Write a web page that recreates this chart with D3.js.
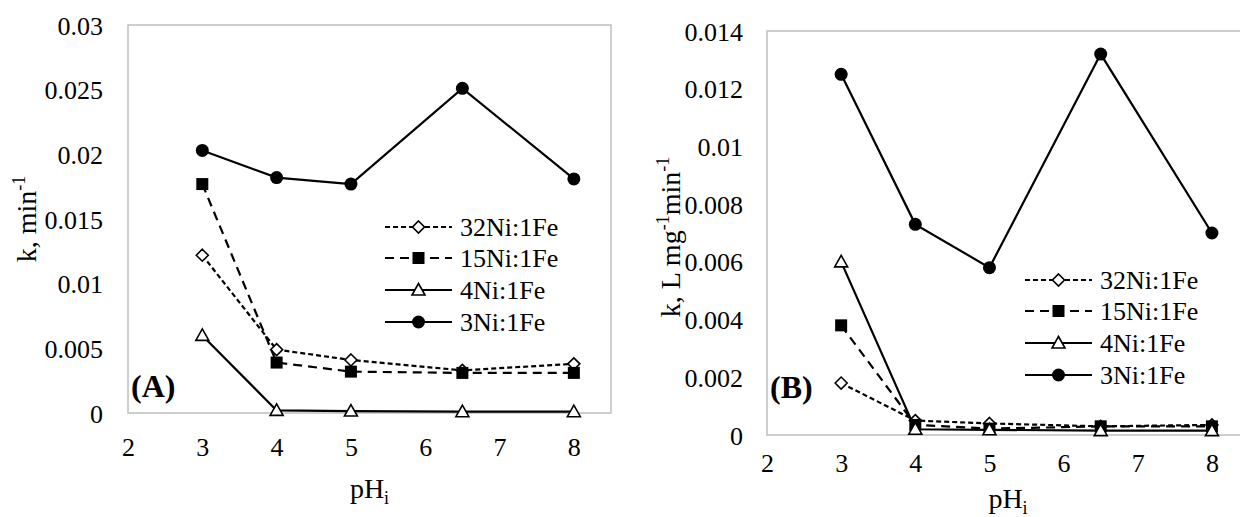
<!DOCTYPE html>
<html>
<head>
<meta charset="utf-8">
<script src="https://cdn.jsdelivr.net/npm/d3@7"></script>
<style>
  html, body { margin: 0; padding: 0; background: #ffffff; }
  svg { display: block; }
  svg text { font-family: "Liberation Serif", "Tinos", "Times New Roman", "DejaVu Serif", serif !important; fill: #000; }
</style>
</head>
<body>
<svg id="chart" width="1240" height="517"></svg>
<script>
// ---------- data ----------
const phValues = [3, 4, 5, 6.5, 8];
const seriesNames = ["32Ni:1Fe", "15Ni:1Fe", "4Ni:1Fe", "3Ni:1Fe"];

// Panel A: k, min^-1
const kA_32Ni = [0.0122, 0.0049, 0.0041, 0.0033, 0.0038];
const kA_15Ni = [0.0177, 0.0039, 0.0032, 0.0031, 0.0031];
const kA_4Ni  = [0.0060, 0.0002, 0.00015, 0.0001, 0.0001];
const kA_3Ni  = [0.0203, 0.0182, 0.0177, 0.0251, 0.0181];

// Panel B: k, L mg^-1 min^-1
const kB_32Ni = [0.0018, 0.0005, 0.0004, 0.0003, 0.00035];
const kB_15Ni = [0.0038, 0.00035, 0.00022, 0.0003, 0.0003];
const kB_4Ni  = [0.0060, 0.0002, 0.00018, 0.00015, 0.00015];
const kB_3Ni  = [0.0125, 0.0073, 0.0058, 0.0132, 0.0070];

const xTicks = [2, 3, 4, 5, 6, 7, 8];
const yTicksA = [0, 0.005, 0.01, 0.015, 0.02, 0.025, 0.03];
const yTickLabelsA = ["0", "0.005", "0.01", "0.015", "0.02", "0.025", "0.03"];
const yTicksB = [0, 0.002, 0.004, 0.006, 0.008, 0.01, 0.012, 0.014];
const yTickLabelsB = ["0", "0.002", "0.004", "0.006", "0.008", "0.01", "0.012", "0.014"];

// ---------- styles ----------
const FONT = '"Liberation Serif", "Tinos", "Times New Roman", "DejaVu Serif", serif';
const styles = [
  { dash: "5,3", marker: "diamond" },
  { dash: "9,6", marker: "square" },
  { dash: null, marker: "triangle" },
  { dash: null, marker: "circle" }
];

const svg = d3.select("#chart");
svg.append("rect").attr("width", 1240).attr("height", 517).attr("fill", "#fff");

function drawMarker(g, type, cx, cy) {
  if (type === "diamond") {
    g.append("path").attr("d", `M${cx},${cy-6}L${cx+6},${cy}L${cx},${cy+6}L${cx-6},${cy}Z`)
      .attr("fill", "#fff").attr("stroke", "#000").attr("stroke-width", 1.6);
  } else if (type === "square") {
    g.append("rect").attr("x", cx-6).attr("y", cy-6).attr("width", 12).attr("height", 12)
      .attr("fill", "#000");
  } else if (type === "triangle") {
    g.append("path").attr("d", `M${cx},${cy-6.5}L${cx+6.5},${cy+5}L${cx-6.5},${cy+5}Z`)
      .attr("fill", "#fff").attr("stroke", "#000").attr("stroke-width", 1.6);
  } else {
    g.append("circle").attr("cx", cx).attr("cy", cy).attr("r", 6.5).attr("fill", "#000");
  }
}

function panel(cfg) {
  const x = d3.scaleLinear().domain([2, 8.5]).range([cfg.left, cfg.right]);
  const y = d3.scaleLinear().domain([0, cfg.ymax]).range([cfg.bottom, cfg.top]);
  const g = svg.append("g").style("font-family", FONT);

  // plot-area border
  g.append("rect")
    .attr("x", cfg.left).attr("y", cfg.top)
    .attr("width", cfg.right - cfg.left).attr("height", cfg.bottom - cfg.top)
    .attr("fill", "none").attr("stroke", "#bfbfbf").attr("stroke-width", 1.5);

  // y axis labels
  const yAxis = d3.axisLeft(y).tickValues(cfg.yTicks)
    .tickFormat((d, i) => cfg.yLabels[i]).tickSize(0).tickPadding(0);
  const ya = g.append("g").attr("transform", `translate(${cfg.left - cfg.yLabelGap},0)`).call(yAxis);
  ya.attr("font-family", null).attr("font-size", null);
  ya.select(".domain").remove();
  ya.selectAll("text").style("font-family", FONT).style("font-size", "26px")
    .attr("fill", "#000").attr("dy", "0.35em").attr("x", 0);

  // x axis labels
  const xAxis = d3.axisBottom(x).tickValues(xTicks).tickFormat(d3.format("d")).tickSize(0).tickPadding(0);
  const xa = g.append("g").attr("transform", `translate(0,${cfg.bottom + cfg.xLabelGap})`).call(xAxis);
  xa.attr("font-family", null).attr("font-size", null);
  xa.select(".domain").remove();
  xa.selectAll("text").style("font-family", FONT).style("font-size", "26px")
    .attr("fill", "#000").attr("dy", "0.35em").attr("y", 0);

  // x title pH_i
  const xt = g.append("text").attr("x", (cfg.left + cfg.right) / 2).attr("y", cfg.xTitleY)
    .attr("text-anchor", "middle").style("font-size", "28px").style("font-family", FONT);
  xt.append("tspan").text("pH");
  xt.append("tspan").style("font-size", "18px").attr("dy", 6).text("i");

  // y title
  const yt = g.append("text")
    .attr("transform", `translate(${cfg.yTitleX},${cfg.yTitleY}) rotate(-90)`)
    .attr("text-anchor", "middle").style("font-size", "28px").style("font-family", FONT);
  cfg.yTitleParts.forEach(p => {
    if (p.sup) {
      yt.append("tspan").style("font-size", "18px").attr("dy", -11).text(p.t);
    } else {
      yt.append("tspan").attr("dy", p.after ? 11 : 0).text(p.t);
    }
  });

  // series
  const line = d3.line().x(d => x(d[0])).y(d => y(d[1]));
  cfg.series.forEach((vals, si) => {
    const pts = phValues.map((p, i) => [p, vals[i]]);
    g.append("path").attr("d", line(pts)).attr("fill", "none")
      .attr("stroke", "#000").attr("stroke-width", 2.2)
      .attr("stroke-dasharray", styles[si].dash);
    const mg = g.append("g");
    pts.forEach(p => drawMarker(mg, styles[si].marker, x(p[0]), y(p[1])));
  });

  // panel label
  g.append("text").attr("x", cfg.left + 3).attr("y", cfg.labelY)
    .style("font-size", "32px").style("font-weight", "bold").style("font-family", FONT).text(cfg.label);

  // legend
  seriesNames.forEach((name, i) => {
    const ry = cfg.legendY[i];
    const lg = g.append("g");
    lg.append("line").attr("x1", cfg.legendX0).attr("x2", cfg.legendX1)
      .attr("y1", ry).attr("y2", ry)
      .attr("stroke", "#000").attr("stroke-width", 2.2)
      .attr("stroke-dasharray", styles[i].dash);
    drawMarker(lg, styles[i].marker, (cfg.legendX0 + cfg.legendX1) / 2, ry);
    lg.append("text").attr("x", cfg.legendX1 + 8).attr("y", ry).attr("dy", "0.35em")
      .style("font-size", "26px").style("font-family", FONT).text(name);
  });
}

panel({
  left: 128, right: 611, top: 25, bottom: 413, ymax: 0.03,
  yTicks: yTicksA, yLabels: yTickLabelsA, yLabelGap: 25, xLabelGap: 34,
  xTitleY: 498, yTitleX: 36, yTitleY: 219,
  yTitleParts: [{ t: "k, min" }, { t: "-1", sup: true }],
  series: [kA_32Ni, kA_15Ni, kA_4Ni, kA_3Ni],
  label: "(A)", labelY: 397,
  legendX0: 385, legendX1: 452, legendY: [227, 258, 290, 322]
});

panel({
  left: 767, right: 1249, top: 31, bottom: 435, ymax: 0.014,
  yTicks: yTicksB, yLabels: yTickLabelsB, yLabelGap: 24, xLabelGap: 28,
  xTitleY: 508, yTitleX: 680, yTitleY: 237,
  yTitleParts: [{ t: "k, L mg" }, { t: "-1", sup: true }, { t: "min", after: true }, { t: "-1", sup: true }],
  series: [kB_32Ni, kB_15Ni, kB_4Ni, kB_3Ni],
  label: "(B)", labelY: 398,
  legendX0: 1025, legendX1: 1092, legendY: [280, 311, 343, 375]
});
</script>
</body>
</html>
